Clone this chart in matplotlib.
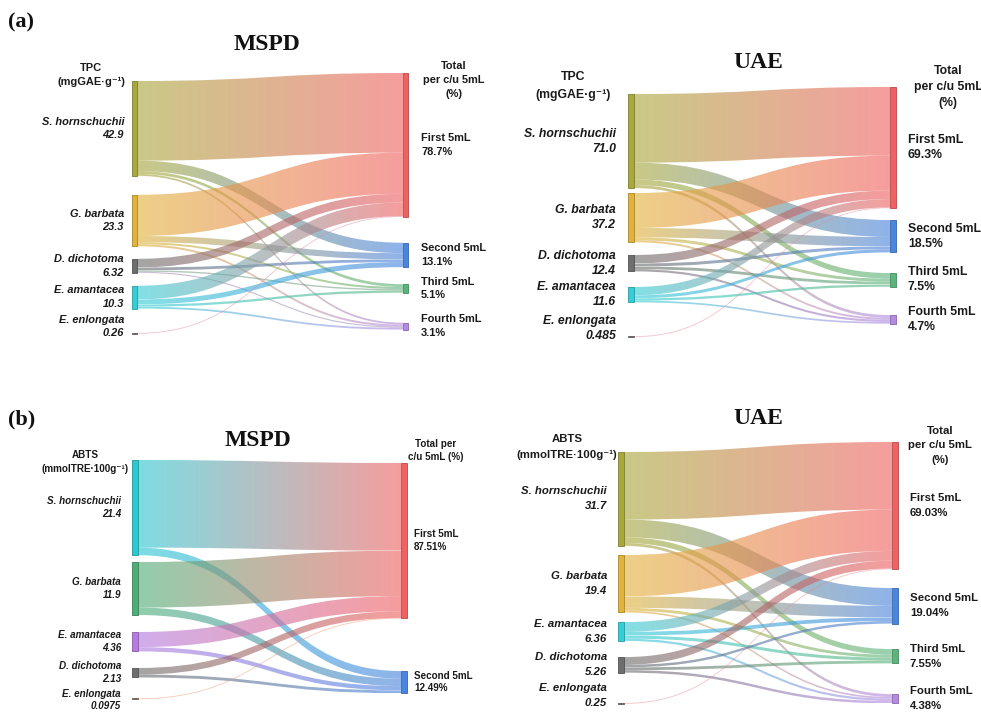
import numpy as np
from matplotlib import pyplot as plt
from matplotlib.path import Path
from matplotlib.patches import PathPatch, Rectangle
from matplotlib.colors import to_rgb

plt.rcParams['font.family'] = ['Liberation Sans', 'DejaVu Sans']

# ---------------- data ----------------
fractions = ["First 5mL", "Second 5mL", "Third 5mL", "Fourth 5mL"]
fraction_colors = ["#F06262", "#4A85DE", "#5DB57E", "#B38BE3"]

# (a) TPC - MSPD
tpc_mspd_species = ["S. hornschuchii", "G. barbata", "D. dichotoma", "E. amantacea", "E. enlongata"]
tpc_mspd_values = [42.9, 23.3, 6.32, 10.3, 0.26]
tpc_mspd_pct = [78.7, 13.1, 5.1, 3.1]
tpc_mspd_split = [[0.84, 0.11, 0.03, 0.02],
                  [0.80, 0.12, 0.04, 0.04],
                  [0.62, 0.20, 0.10, 0.08],
                  [0.60, 0.22, 0.10, 0.08],
                  [1.00, 0.00, 0.00, 0.00]]

# (a) TPC - UAE
tpc_uae_species = ["S. hornschuchii", "G. barbata", "D. dichotoma", "E. amantacea", "E. enlongata"]
tpc_uae_values = [71.0, 37.2, 12.4, 11.6, 0.485]
tpc_uae_pct = [69.3, 18.5, 7.5, 4.7]
tpc_uae_split = [[0.73, 0.18, 0.06, 0.03],
                 [0.71, 0.19, 0.06, 0.04],
                 [0.52, 0.18, 0.17, 0.13],
                 [0.54, 0.20, 0.15, 0.11],
                 [1.00, 0.00, 0.00, 0.00]]

# (b) ABTS - MSPD
abts_mspd_species = ["S. hornschuchii", "G. barbata", "E. amantacea", "D. dichotoma", "E. enlongata"]
abts_mspd_values = [21.4, 11.9, 4.36, 2.13, 0.0975]
abts_mspd_pct = [87.51, 12.49]
abts_mspd_split = [[0.92, 0.08],
                   [0.86, 0.14],
                   [0.78, 0.22],
                   [0.70, 0.30],
                   [1.00, 0.00]]

# (b) ABTS - UAE
abts_uae_species = ["S. hornschuchii", "G. barbata", "E. amantacea", "D. dichotoma", "E. enlongata"]
abts_uae_values = [31.7, 19.4, 6.36, 5.26, 0.25]
abts_uae_pct = [69.03, 19.04, 7.55, 4.38]
abts_uae_split = [[0.72, 0.19, 0.06, 0.03],
                  [0.72, 0.20, 0.05, 0.03],
                  [0.52, 0.20, 0.16, 0.12],
                  [0.50, 0.16, 0.18, 0.16],
                  [1.00, 0.00, 0.00, 0.00]]

olive, gold, grey, cyan = "#A9A83C", "#E2B33C", "#6E6E6E", "#35CDD6"


def flow(ax, x0, x1, a0, b0, a1, b1, c0, c1, alpha=0.62):
    xm = (x0 + x1) / 2
    h = b0 - a0
    if h < 1.5:
        ym0, ym1 = (a0 + b0) / 2, (a1 + b1) / 2
        p = Path([(x0, ym0), (xm, ym0), (xm, ym1), (x1, ym1)],
                 [Path.MOVETO, Path.CURVE4, Path.CURVE4, Path.CURVE4])
        mix = (np.array(c0) + np.array(c1)) / 2
        ax.add_patch(PathPatch(p, fill=False, edgecolor=mix, alpha=0.5,
                               lw=max(h, 0.8) * 0.72, zorder=1))
        return
    verts = [(x0, a0), (xm, a0), (xm, a1), (x1, a1),
             (x1, b1), (xm, b1), (xm, b0), (x0, b0), (x0, a0)]
    codes = [Path.MOVETO, Path.CURVE4, Path.CURVE4, Path.CURVE4,
             Path.LINETO, Path.CURVE4, Path.CURVE4, Path.CURVE4, Path.CLOSEPOLY]
    patch = PathPatch(Path(verts, codes), facecolor='none', edgecolor='none')
    ax.add_patch(patch)
    g = np.linspace(0, 1, 256)[:, None]
    img = np.zeros((1, 256, 4))
    img[0, :, :3] = (1 - g) * np.array(c0) + g * np.array(c1)
    img[0, :, 3] = alpha
    im = ax.imshow(img, extent=(x0, x1, max(b0, b1), min(a0, a1)),
                   aspect='auto', interpolation='bilinear', zorder=1)
    im.set_clip_path(patch)


def darker(c, f=0.8):
    return tuple(np.array(to_rgb(c)) * f)


def sankey(ax, species, values, pct, split, src_colors, lay):
    nt = len(pct)
    vals = np.asarray(values, float)
    fl = vals[:, None] * np.asarray(split, float)
    tgt = fl.sum(axis=0)
    s, xl, xr, w = lay['scale'], lay['xl'], lay['xr'], lay['w']
    sy = lay['src_top'] + np.concatenate([[0], np.cumsum(vals[:-1] * s + np.array(lay['src_gaps']))])
    ty = lay['tgt_top'] + np.concatenate([[0], np.cumsum(tgt[:-1] * s + np.array(lay['tgt_gaps']))])
    so, to = sy.copy(), ty.copy()
    for i in range(len(vals)):
        for j in range(nt):
            h = fl[i, j] * s
            if h <= 0:
                continue
            flow(ax, xl + w, xr, so[i], so[i] + h, to[j], to[j] + h,
                 to_rgb(src_colors[i]), to_rgb(fraction_colors[j]))
            so[i] += h
            to[j] += h
    for i in range(len(vals)):
        ax.add_patch(Rectangle((xl, sy[i]), w, max(vals[i] * s, 0.6), facecolor=src_colors[i],
                               edgecolor=darker(src_colors[i], 0.75) if vals[i] > 1 else '#555555',
                               lw=0.6, zorder=3))
    for j in range(nt):
        ax.add_patch(Rectangle((xr, ty[j]), w, tgt[j] * s, facecolor=fraction_colors[j],
                               edgecolor=darker(fraction_colors[j], 0.75), lw=0.6, zorder=3))

    fs = lay['fs']
    st = lay['step']
    for i, name in enumerate(species):
        yc = sy[i] + vals[i] * s / 2 + (lay['last_shift'] if i == len(species) - 1 else 0)
        for k, txt in enumerate([name, str(values[i])]):
            ax.text(lay['lab_l'], yc + (k - 0.5) * st, txt, ha='right', va='center',
                    fontsize=fs, fontweight='bold', fontstyle='italic', color='#1a1a1a', zorder=4)
    for j in range(nt):
        yc = ty[j] + tgt[j] * s / 2
        for k, txt in enumerate([fractions[j], f"{pct[j]}%"]):
            ax.text(lay['lab_r'], yc + (k - 0.5) * st, txt, ha='left', va='center',
                    fontsize=fs, fontweight='bold', color='#1a1a1a', zorder=4)
    for key in ('head_l', 'head_r'):
        hx, hy, hs, lines = lay[key]
        for k, txt in enumerate(lines):
            ax.text(hx, hy + k * hs, txt, ha='center', va='center', fontsize=fs,
                    fontweight='bold', color='#1a1a1a', zorder=4)
    tx, ty_, tt = lay['title']
    ax.text(tx, ty_, tt, ha='center', va='center', fontsize=17, fontweight='bold',
            family='Liberation Serif', color='#111111')


fig = plt.figure(figsize=(9.81, 7.13), dpi=100)
ax = fig.add_axes([0, 0, 1, 1])

sankey(ax, tpc_mspd_species, tpc_mspd_values, tpc_mspd_pct, tpc_mspd_split,
       [olive, gold, grey, cyan, "#C9A0DC"],
       dict(scale=2.21, xl=132, xr=403, w=5, src_top=81, src_gaps=[19, 12.5, 13, 24.5],
            tgt_top=73, tgt_gaps=[26, 17, 30], fs=7.9, step=13.5, last_shift=-7,
            lab_l=124, lab_r=421,
            head_l=(91, 68, 14, ["TPC", "(mgGAE·g⁻¹)"]),
            head_r=(454, 66, 14, ["Total", "per c/u 5mL", "(%)"]),
            title=(267, 45, "MSPD")))

sankey(ax, tpc_uae_species, tpc_uae_values, tpc_uae_pct, tpc_uae_split,
       [olive, gold, grey, cyan, "#D9A8C8"],
       dict(scale=1.324, xl=628, xr=890, w=6, src_top=94, src_gaps=[5, 12.7, 15.6, 34],
            tgt_top=87, tgt_gaps=[12, 20.7, 28.3], fs=8.8, step=15, last_shift=-8.5,
            lab_l=616, lab_r=908,
            head_l=(573, 77, 18, ["TPC", "(mgGAE·g⁻¹)"]),
            head_r=(948, 71, 16, ["Total", "per c/u 5mL", "(%)"]),
            title=(758, 63, "UAE")))

sankey(ax, abts_mspd_species, abts_mspd_values, abts_mspd_pct, abts_mspd_split,
       ["#2EC8D2", "#4FAE78", "#B57BE0", grey, "#F0C070"],
       dict(scale=4.45, xl=132, xr=401, w=6, src_top=460, src_gaps=[6.8, 17, 16.6, 21],
            tgt_top=463, tgt_gaps=[52.7], fs=7.1, step=12.5, last_shift=1.5,
            lab_l=121, lab_r=414,
            head_l=(85, 455, 14, ["ABTS", "(mmolTRE·100g⁻¹)"]),
            head_r=(436, 444, 13, ["Total per", "c/u 5mL (%)"]),
            title=(258, 440, "MSPD")))

sankey(ax, abts_uae_species, abts_uae_values, abts_uae_pct, abts_uae_split,
       [olive, gold, cyan, grey, "#E0A0B0"],
       dict(scale=2.96, xl=618, xr=892, w=6, src_top=452, src_gaps=[9.2, 9.6, 16.2, 30.4],
            tgt_top=442, tgt_gaps=[18.8, 25.5, 30.7], fs=8.2, step=15, last_shift=-7.5,
            lab_l=607, lab_r=910,
            head_l=(567, 439, 16, ["ABTS", "(mmolTRE·100g⁻¹)"]),
            head_r=(940, 431, 14.5, ["Total", "per c/u 5mL", "(%)"]),
            title=(758, 419, "UAE")))

for tag, y in [("(a)", 22), ("(b)", 419)]:
    ax.text(8, y, tag, ha='left', va='center', fontsize=16, fontweight='bold',
            family='Liberation Serif', color='#111111')

ax.set_xlim(0, 981)
ax.set_ylim(713, 0)
ax.set_aspect('auto')
ax.axis('off')
fig.savefig('out.png', dpi=100)
